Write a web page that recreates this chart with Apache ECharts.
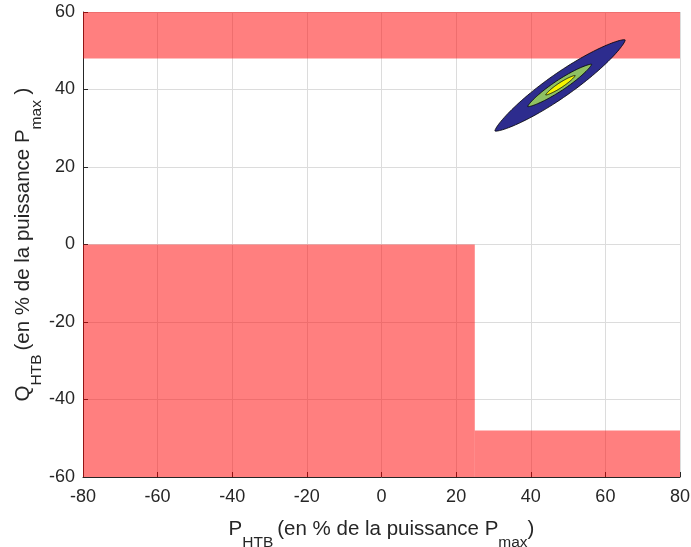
<!DOCTYPE html>
<html>
<head>
<meta charset="utf-8">
<script src="https://cdn.jsdelivr.net/npm/echarts@6/dist/echarts.min.js"></script>
<style>html,body{margin:0;padding:0;background:#fff}#c{width:691px;height:547px}</style>
</head>
<body>
<div id="c"></div>
<script>
// Axis ranges / ticks
var xTicks = [-80, -60, -40, -20, 0, 20, 40, 60, 80];
var yTicks = [-60, -40, -20, 0, 20, 40, 60];

// Forbidden (red) zones: [xMin, xMax, yMin, yMax]
var redZones = [
  [-80, 80, 48, 60],
  [-80, 25, -60, 0],
  [25, 80, -60, -48]
];

// Contour levels of the operating-point density (outer -> inner)
var contourNames = ['level 1', 'level 2', 'level 3'];
var contourTipA = [[30.4, 29.3], [39.2, 35.6], [44.0, 38.6]];
var contourTipB = [[65.3, 52.8], [56.3, 46.5], [51.9, 43.6]];
var contourAspect = [0.15, 0.14, 0.14];
var contourColors = ['#2d2c8e', '#8fc062', '#f6f500'];

var FONT = '"Liberation Sans", Arial, sans-serif';
var AXC = '#262626';

var chart = echarts.init(document.getElementById('c'));

var zoneData = redZones.map(function (z) { return z.slice(); });
var contourData = contourNames.map(function (n, i) {
  return { name: n, value: [contourTipA[i][0], contourTipA[i][1], contourTipB[i][0], contourTipB[i][1], contourAspect[i]], color: contourColors[i] };
});

function axisCommon(ticks) {
  return {
    type: 'value',
    min: ticks[0],
    max: ticks[ticks.length - 1],
    interval: ticks[1] - ticks[0],
    axisLine: { show: true, onZero: false, lineStyle: { color: AXC, width: 1 } },
    axisTick: { show: true, inside: true, length: 5, lineStyle: { color: AXC } },
    splitLine: { show: true, lineStyle: { color: '#dcdcdc', width: 1 } },
    axisLabel: { fontFamily: FONT, fontSize: 18, color: AXC }
  };
}

function nameStyle() {
  return {
    fontFamily: FONT, color: AXC,
    rich: {
      n: { fontFamily: FONT, fontSize: 20.5, color: AXC, verticalAlign: 'bottom', padding: [0, 0, 11, 0] },
      s: { fontFamily: FONT, fontSize: 15.5, color: AXC, verticalAlign: 'bottom' },
      sp: { fontFamily: FONT, fontSize: 15.5, color: AXC, verticalAlign: 'bottom', padding: [0, 4, 0, 0] }
    }
  };
}

var xAxis = axisCommon(xTicks);
xAxis.axisLabel.margin = 11;
xAxis.name = '{n|P}{sp|HTB}{n|(en % de la puissance P}{s|max}{n|)}';
xAxis.nameLocation = 'middle';
xAxis.nameGap = 42;
xAxis.nameMoveOverlap = false;
xAxis.nameTextStyle = nameStyle();

var yAxis = axisCommon(yTicks);
yAxis.axisLabel.margin = 8;
yAxis.name = '{n|Q}{sp|HTB}{n|(en % de la puissance P}{s|max}{n| )}';
yAxis.nameLocation = 'middle';
yAxis.nameGap = 38;
yAxis.nameMoveOverlap = false;
yAxis.nameTextStyle = nameStyle();

chart.setOption({
  animation: false,
  backgroundColor: '#ffffff',
  grid: { left: 83, right: 11, top: 12, bottom: 70, containLabel: false, outerBoundsMode: 'none' },
  xAxis: xAxis,
  yAxis: yAxis,
  series: [
    {
      type: 'custom',
      name: 'zones',
      data: zoneData,
      z: 2,
      renderItem: function (params, api) {
        var p1 = api.coord([api.value(0), api.value(3)]);
        var p2 = api.coord([api.value(1), api.value(2)]);
        return {
          type: 'rect',
          shape: { x: p1[0], y: p1[1], width: p2[0] - p1[0], height: p2[1] - p1[1] },
          style: { fill: 'rgba(255,0,0,0.5)', stroke: null }
        };
      }
    },
    {
      type: 'custom',
      name: 'contours',
      data: contourData,
      z: 3,
      renderItem: function (params, api) {
        var a = api.coord([api.value(0), api.value(1)]);
        var b = api.coord([api.value(2), api.value(3)]);
        var r = api.value(4);
        var cx = (a[0] + b[0]) / 2, cy = (a[1] + b[1]) / 2;
        var hx = (b[0] - a[0]) / 2, hy = (b[1] - a[1]) / 2;
        var nx = -hy * r, ny = hx * r;
        var pts = [];
        var N = 120;
        for (var k = 0; k < N; k++) {
          var t = 2 * Math.PI * k / N;
          var s = Math.cos(t);
          var w = Math.pow(Math.max(0, 1 - s * s), 0.7) * (Math.sin(t) >= 0 ? 1 : -1);
          pts.push([cx + s * hx + w * nx, cy + s * hy + w * ny]);
        }
        return {
          type: 'polygon',
          shape: { points: pts },
          style: { fill: contourData[params.dataIndex].color, stroke: '#000000', lineWidth: 0.8 }
        };
      }
    }
  ]
});
</script>
</body>
</html>
